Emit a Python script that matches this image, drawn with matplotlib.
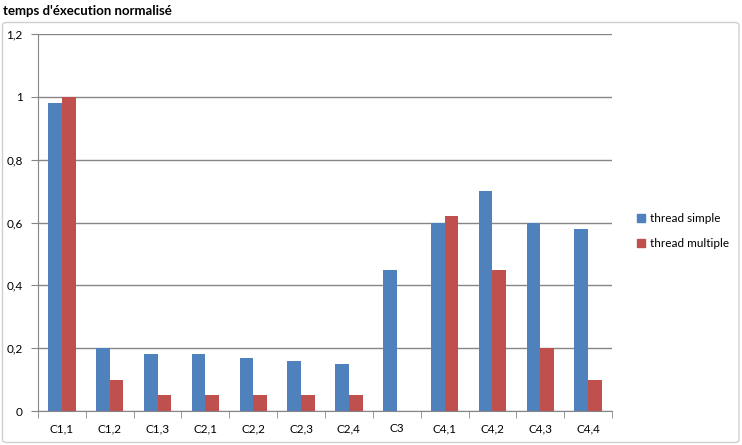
import matplotlib
matplotlib.use("Agg")
import matplotlib.pyplot as plt
import numpy as np
from matplotlib.patches import FancyBboxPatch, Patch

plt.rcParams['font.family'] = ['Lato', 'DejaVu Sans']

categories = ["C1,1", "C1,2", "C1,3", "C2,1", "C2,2", "C2,3", "C2,4", "C3", "C4,1", "C4,2", "C4,3", "C4,4"]
thread_simple = [0.98, 0.20, 0.18, 0.18, 0.17, 0.16, 0.15, 0.45, 0.60, 0.70, 0.60, 0.58]
thread_multiple = [1.00, 0.10, 0.05, 0.05, 0.05, 0.05, 0.05, 0.00, 0.62, 0.45, 0.20, 0.10]
series_names = ["thread simple", "thread multiple"]
yticks = [0, 0.2, 0.4, 0.6, 0.8, 1.0, 1.2]
ytick_labels = ["0", "0,2", "0,4", "0,6", "0,8", "1", "1,2"]
title = "temps d'éxecution normalisé"

blue = "#4F81BD"
red = "#C0504D"
grid = "#868686"

W, H = 742, 445
fig = plt.figure(figsize=(W / 100, H / 100), dpi=100)

# chart area border
fig.patches.append(FancyBboxPatch((2.5 / W, 2.5 / H), 736.5 / W, 420 / H, transform=fig.transFigure,
                                  boxstyle="round,pad=0,rounding_size=0.006",
                                  fill=False, edgecolor="#D0D0D0", linewidth=1))

ax = fig.add_axes([38 / W, 34 / H, (612 - 38) / W, (411 - 34) / H])
x = np.arange(len(categories))
bw = 1 / 3.5
ax.bar(x - bw / 2, thread_simple, width=bw, color=blue, label=series_names[0], zorder=3)
ax.bar(x + bw / 2, thread_multiple, width=bw, color=red, label=series_names[1], zorder=3)

ax.set_xlim(-0.5, len(categories) - 0.5)
ax.set_ylim(0, 1.2)
ax.set_yticks(yticks)
ax.set_yticklabels(ytick_labels)
ax.set_xticks(x)
ax.set_xticklabels(categories)
ax.set_xticks(np.arange(-0.5, len(categories) + 0.5, 1), minor=True)
ax.tick_params(axis='x', which='major', length=0, pad=9, labelsize=8.5)
ax.tick_params(axis='x', which='minor', length=5, color=grid, direction='out')
ax.tick_params(axis='y', length=5, color=grid, labelsize=8.5, pad=6)
ax.yaxis.grid(True, color=grid, linewidth=1, zorder=0)
for s in ["top", "right"]:
    ax.spines[s].set_visible(False)
for s in ["left", "bottom"]:
    ax.spines[s].set_color(grid)
    ax.spines[s].set_zorder(4)

fig.text(3 / W, 1 - 11 / H, title, fontsize=9.5, fontweight='bold', va='center', ha='left')

handles = [Patch(color=blue), Patch(color=red)]
fig.legend(handles, series_names, loc='center left', bbox_to_anchor=(626 / W, 1 - 231 / H),
           frameon=False, fontsize=8.5, handlelength=0.7, handleheight=0.7,
           handletextpad=0.4, labelspacing=1.2)

fig.savefig("out.png", dpi=100)
